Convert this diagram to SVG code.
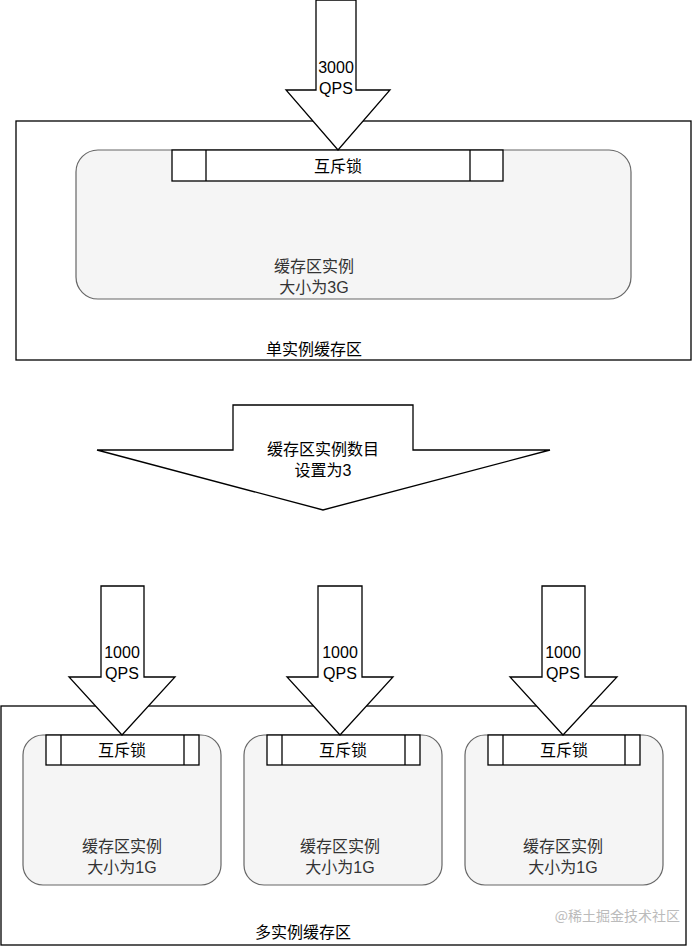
<svg xmlns="http://www.w3.org/2000/svg" width="692" height="947" viewBox="0 0 692 947">
<style>
.o{fill:#fff;stroke:#000;stroke-width:1.3}
.c{fill:#f5f5f5;stroke:#666;stroke-width:1.2}
.t{font-family:"Liberation Sans","Noto Sans CJK SC",sans-serif;font-size:16px;text-anchor:middle;fill:#000}
.g{fill:#333}
.a{fill:#fff;stroke:#000;stroke-width:1.3}
</style>
<rect width="692" height="947" fill="#fff"/>
<g id="single">
<rect class="o" x="16" y="121" width="675" height="239"/>
<text class="t" x="314" y="355">单实例缓存区</text>
</g>
<g id="cache3g">
<rect class="c" x="76" y="150" width="555" height="149" rx="22"/>
<text class="t g" x="314" y="272">缓存区实例</text>
<text class="t g" x="314" y="293">大小为3G</text>
</g>
<g id="lock0">
<rect class="o" x="172" y="150" width="331" height="31"/>
<line class="o" x1="206" y1="150" x2="206" y2="181"/>
<line class="o" x1="470" y1="150" x2="470" y2="181"/>
<text class="t" x="338" y="172">互斥锁</text>
</g>
<g id="multi">
<rect class="o" x="1" y="706" width="685" height="239"/>
<text class="t" x="303" y="938">多实例缓存区</text>
</g>
<g id="box1">
<rect class="c" x="23" y="735" width="198" height="150" rx="20"/>
<text class="t g" x="122" y="852">缓存区实例</text>
<text class="t g" x="122" y="873">大小为1G</text>
<rect class="o" x="46" y="735" width="153" height="30"/>
<line class="o" x1="61" y1="735" x2="61" y2="765"/><line class="o" x1="184" y1="735" x2="184" y2="765"/>
<text class="t" x="122" y="756">互斥锁</text>
</g>
<g id="box2">
<rect class="c" x="244" y="735" width="198" height="150" rx="20"/>
<text class="t g" x="340" y="852">缓存区实例</text>
<text class="t g" x="340" y="873">大小为1G</text>
<rect class="o" x="267" y="735" width="153" height="30"/>
<line class="o" x1="282" y1="735" x2="282" y2="765"/><line class="o" x1="405" y1="735" x2="405" y2="765"/>
<text class="t" x="343" y="756">互斥锁</text>
</g>
<g id="box3">
<rect class="c" x="465" y="735" width="198" height="150" rx="20"/>
<text class="t g" x="563" y="852">缓存区实例</text>
<text class="t g" x="563" y="873">大小为1G</text>
<rect class="o" x="488" y="735" width="152" height="30"/>
<line class="o" x1="503" y1="735" x2="503" y2="765"/><line class="o" x1="625" y1="735" x2="625" y2="765"/>
<text class="t" x="564" y="756">互斥锁</text>
</g>
<g id="connectors">
<path class="a" d="M316,0 H356 V90 H390 L338,150 L286,90 H316 Z"/>
<text class="t" x="336" y="73">3000</text><text class="t" x="336" y="94">QPS</text>
<path class="a" d="M233,405 H413 V450 H550 L323,510 L97,450 H233 Z"/>
<text class="t" x="323" y="455">缓存区实例数目</text><text class="t" x="323" y="476">设置为3</text>
<path class="a" d="M101,586 H144 V677 H175 L122,735 L69,677 H101 Z"/>
<text class="t" x="122" y="658">1000</text><text class="t" x="122" y="679">QPS</text>
<path class="a" d="M318,586 H362 V677 H393 L340,735 L287,677 H318 Z"/>
<text class="t" x="340" y="658">1000</text><text class="t" x="340" y="679">QPS</text>
<path class="a" d="M542,586 H585 V677 H617 L563,735 L510,677 H542 Z"/>
<text class="t" x="563" y="658">1000</text><text class="t" x="563" y="679">QPS</text>
</g>
<text x="680" y="921" font-family="'Noto Sans CJK SC',sans-serif" font-size="14" fill="#bbb" text-anchor="end">@稀土掘金技术社区</text>
</svg>
